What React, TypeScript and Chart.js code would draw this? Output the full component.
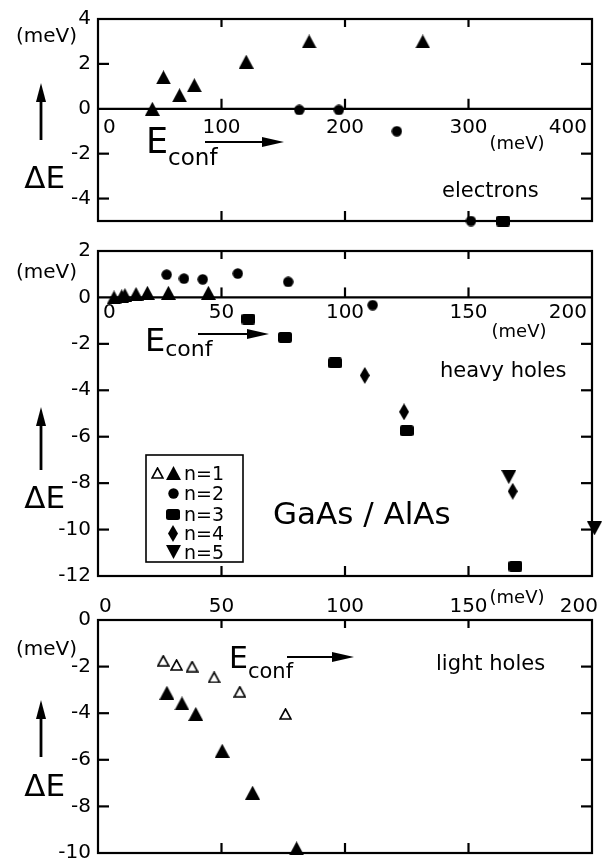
import React, { useEffect, useRef } from 'react';
import { Chart, registerables } from 'chart.js';
Chart.register(...registerables);

const FONT = '"DejaVu Sans", "Liberation Sans", sans-serif';

// ---------- electrons (top panel) ----------
const elecN1X = [44, 53, 66, 78, 120, 171, 263];
const elecN1Y = [0, 1.4, 0.6, 1.05, 2.1, 3.0, 3.0];
const elecN2X = [163, 195, 242, 302];
const elecN2Y = [-0.05, -0.05, -1.0, -5.0];
const elecN3X = [328];
const elecN3Y = [-5.0];
const elecXTicks = [0, 100, 200, 300, 400];
const elecYTicks = [4, 2, 0, -2, -4];

// ---------- heavy holes (middle panel) ----------
const hhN1X = [6.5, 9.6, 10.9, 15.4, 20, 28.5, 44.7];
const hhN1Y = [0, 0.05, 0.1, 0.15, 0.2, 0.2, 0.2];
const hhN2X = [27.8, 34.8, 42.4, 56.6, 77, 111.2];
const hhN2Y = [0.98, 0.81, 0.78, 1.03, 0.67, -0.33];
const hhN3X = [60.9, 75.7, 96, 125, 169];
const hhN3Y = [-0.93, -1.72, -2.82, -5.74, -11.58];
const hhN4X = [108, 123.9, 167.9];
const hhN4Y = [-3.36, -4.93, -8.35];
const hhN5X = [166.3, 201];
const hhN5Y = [-7.74, -9.95];
const hhXTicks = [0, 50, 100, 150, 200];
const hhYTicks = [2, 0, -2, -4, -6, -8, -10, -12];

// ---------- light holes (bottom panel) ----------
const lhOpenX = [26.4, 31.8, 38.1, 47.0, 57.4, 75.9];
const lhOpenY = [-1.75, -1.93, -2.0, -2.46, -3.08, -4.03];
const lhFillX = [27.9, 34.0, 39.6, 50.3, 62.6, 80.4];
const lhFillY = [-3.12, -3.58, -4.03, -5.61, -7.41, -9.8];
const lhXTicks = [0, 50, 100, 150, 200];
const lhYTicks = [0, -2, -4, -6, -8, -10];

const legendLabels = ['n=1', 'n=2', 'n=3', 'n=4', 'n=5'];
const xUnit = '(meV)';
const yUnit = '(meV)';

type Markers = Record<string, HTMLCanvasElement>;

function mk(w: number, h: number, draw: (g: CanvasRenderingContext2D, w: number, h: number) => void) {
  const c = document.createElement('canvas');
  c.width = w;
  c.height = h;
  const g = c.getContext('2d')!;
  g.fillStyle = '#000';
  g.strokeStyle = '#000';
  draw(g, w, h);
  return c;
}

function makeMarkers(): Markers {
  return {
    triUp: mk(15, 14, (g, w, h) => {
      g.beginPath(); g.moveTo(w / 2, 0); g.lineTo(w, h); g.lineTo(0, h); g.closePath(); g.fill();
    }),
    triOpen: mk(13, 12, (g, w, h) => {
      g.lineWidth = 1.6;
      g.beginPath(); g.moveTo(w / 2, 1); g.lineTo(w - 1, h - 1); g.lineTo(1, h - 1); g.closePath(); g.stroke();
    }),
    circle: mk(11, 11, (g) => {
      g.beginPath(); g.arc(5.5, 5.5, 5.2, 0, Math.PI * 2); g.fill();
    }),
    square: mk(14, 11, (g, w, h) => {
      g.beginPath(); (g as any).roundRect(0, 0, w, h, 2.5); g.fill();
    }),
    diamond: mk(10, 17, (g, w, h) => {
      g.beginPath(); g.moveTo(w / 2, 0); g.lineTo(w, h / 2); g.lineTo(w / 2, h); g.lineTo(0, h / 2); g.closePath(); g.fill();
    }),
    triDown: mk(15, 14, (g, w, h) => {
      g.beginPath(); g.moveTo(0, 0); g.lineTo(w, 0); g.lineTo(w / 2, h); g.closePath(); g.fill();
    }),
  };
}

function ds(xs: number[], ys: number[], style: HTMLCanvasElement, label: string) {
  return {
    label,
    data: xs.map((x, i) => ({ x, y: ys[i] })),
    pointStyle: style,
    pointRadius: 7,
    pointHoverRadius: 7,
    showLine: false,
    clip: false as any,
    backgroundColor: '#000',
    borderColor: '#000',
  };
}

function line(ctx: CanvasRenderingContext2D, x1: number, y1: number, x2: number, y2: number, w = 2) {
  ctx.lineWidth = w;
  ctx.beginPath(); ctx.moveTo(x1, y1); ctx.lineTo(x2, y2); ctx.stroke();
}

function txt(ctx: CanvasRenderingContext2D, s: string, x: number, y: number, size: number, align: CanvasTextAlign = 'left') {
  ctx.font = `${size}px ${FONT}`;
  ctx.textAlign = align;
  ctx.textBaseline = 'alphabetic';
  ctx.fillText(s, x, y);
}

function arrowRight(ctx: CanvasRenderingContext2D, x1: number, x2: number, y: number) {
  line(ctx, x1, y, x2 - 10, y, 2.2);
  ctx.beginPath(); ctx.moveTo(x2, y); ctx.lineTo(x2 - 22, y - 5); ctx.lineTo(x2 - 22, y + 5); ctx.closePath(); ctx.fill();
}

function arrowUp(ctx: CanvasRenderingContext2D, x: number, yBottom: number, yTop: number) {
  line(ctx, x, yBottom, x, yTop + 10, 2.8);
  ctx.beginPath(); ctx.moveTo(x, yTop); ctx.lineTo(x - 5, yTop + 19); ctx.lineTo(x + 5, yTop + 19); ctx.closePath(); ctx.fill();
}

function eConf(ctx: CanvasRenderingContext2D, x: number, baseE: number, sizeE: number, baseSub: number, sizeSub: number) {
  txt(ctx, 'E', x, baseE, sizeE);
  ctx.font = `${sizeE}px ${FONT}`;
  const w = ctx.measureText('E').width;
  txt(ctx, 'conf', x + w, baseSub, sizeSub);
}

function leftLabel(ctx: CanvasRenderingContext2D, unitBase: number, arrowBottom: number, arrowTop: number, deBase: number) {
  txt(ctx, yUnit, 77, unitBase, 20, 'right');
  arrowUp(ctx, 41, arrowBottom, arrowTop);
  txt(ctx, 'ΔE', 65, deBase, 31, 'right');
}

type FrameOpts = { xTicks: number[]; yTicks: number[]; zero: boolean; labelsAt: 'zero' | 'top'; labelBase: number };

function drawFrame(chart: any, o: FrameOpts) {
  const { ctx, chartArea: a, scales } = chart;
  const xs = scales.x, ys = scales.y;
  ctx.save();
  ctx.strokeStyle = '#000';
  ctx.fillStyle = '#000';
  ctx.lineWidth = 2.2;
  ctx.strokeRect(a.left, a.top, a.right - a.left, a.bottom - a.top);
  const y0 = ys.getPixelForValue(0);
  if (o.zero) line(ctx, a.left, y0, a.right, y0, 2.2);
  const inner = o.xTicks.slice(1, -1);
  for (const v of inner) {
    const px = xs.getPixelForValue(v);
    line(ctx, px, a.top, px, a.top + 8, 2.2);
    line(ctx, px, a.bottom, px, a.bottom - 10, 2.2);
    if (o.zero) line(ctx, px, y0, px, y0 - 10, 2.2);
  }
  const yMin = ys.min, yMax = ys.max;
  for (const v of o.yTicks) {
    if (v === 0 && o.zero) continue;
    if (v === yMin || v === yMax) continue;
    const py = ys.getPixelForValue(v);
    line(ctx, a.left, py, a.left + 11, py, 2.2);
    line(ctx, a.right, py, a.right - 11, py, 2.2);
  }
  o.xTicks.forEach((v, i) => {
    const px = xs.getPixelForValue(v);
    const s = String(v);
    if (i === 0) txt(ctx, s, px + (o.labelsAt === 'zero' ? 5 : 1), o.labelBase, 20, 'left');
    else if (i === o.xTicks.length - 1) txt(ctx, s, px + (o.labelsAt === 'zero' ? -5 : 6), o.labelBase, 20, 'right');
    else txt(ctx, s, px, o.labelBase, 20, 'center');
  });
  ctx.restore();
}

function makeConfig(datasets: any[], xMin: number, xMax: number, yMin: number, yMax: number, yTicks: number[],
  pad: { top: number; bottom: number }, draw: (chart: any) => void) {
  return {
    type: 'scatter' as const,
    data: { datasets },
    options: {
      animation: false as const,
      responsive: false,
      maintainAspectRatio: false,
      events: [] as any[],
      layout: { padding: { top: pad.top, bottom: pad.bottom, left: 0, right: 24 } },
      plugins: { legend: { display: false }, tooltip: { enabled: false } },
      scales: {
        x: { type: 'linear' as const, min: xMin, max: xMax, display: false },
        y: {
          type: 'linear' as const, min: yMin, max: yMax, position: 'left' as const,
          afterBuildTicks: (s: any) => { s.ticks = yTicks.map((v) => ({ value: v })); },
          afterFit: (s: any) => { s.width = 98; },
          grid: { display: false, drawTicks: false },
          border: { display: false },
          ticks: { font: { family: FONT, size: 20 }, color: '#000', padding: 7, autoSkip: false, callback: (v: any) => String(v) },
        },
      },
    },
    plugins: [{ id: 'deco', afterDraw: (chart: any) => draw(chart) }],
  };
}

export default function App() {
  const r1 = useRef<HTMLCanvasElement>(null);
  const r2 = useRef<HTMLCanvasElement>(null);
  const r3 = useRef<HTMLCanvasElement>(null);

  useEffect(() => {
    const M = makeMarkers();

    // top panel: canvas at page y=0
    const off1 = 0;
    const c1 = new Chart(r1.current!, makeConfig(
      [ds(elecN1X, elecN1Y, M.triUp, 'n=1'), ds(elecN2X, elecN2Y, M.circle, 'n=2'), ds(elecN3X, elecN3Y, M.square, 'n=3')],
      0, 400, -5, 4, elecYTicks, { top: 14, bottom: 17 },
      (chart) => {
        const ctx = chart.ctx;
        const Y = (v: number) => v - off1;
        drawFrame(chart, { xTicks: elecXTicks, yTicks: elecYTicks, zero: true, labelsAt: 'zero', labelBase: Y(133) });
        ctx.save(); ctx.fillStyle = '#000'; ctx.strokeStyle = '#000';
        txt(ctx, xUnit, 517, Y(149), 18, 'center');
        leftLabel(ctx, Y(42), Y(140), Y(83), Y(188));
        eConf(ctx, 146, Y(153), 35, Y(165), 23);
        arrowRight(ctx, 205, 284, Y(142));
        txt(ctx, 'electrons', 442, Y(197), 21);
        ctx.restore();
      }) as any);

    // middle panel: canvas at page y=232
    const off2 = 232;
    const c2 = new Chart(r2.current!, makeConfig(
      [ds(hhN1X, hhN1Y, M.triUp, 'n=1'), ds(hhN2X, hhN2Y, M.circle, 'n=2'), ds(hhN3X, hhN3Y, M.square, 'n=3'),
       ds(hhN4X, hhN4Y, M.diamond, 'n=4'), ds(hhN5X, hhN5Y, M.triDown, 'n=5')],
      0, 200, -12, 2, hhYTicks, { top: 16, bottom: 24 },
      (chart) => {
        const ctx = chart.ctx;
        const Y = (v: number) => v - off2;
        drawFrame(chart, { xTicks: hhXTicks, yTicks: hhYTicks, zero: true, labelsAt: 'zero', labelBase: Y(318) });
        ctx.save(); ctx.fillStyle = '#000'; ctx.strokeStyle = '#000';
        txt(ctx, xUnit, 519, Y(337), 18, 'center');
        leftLabel(ctx, Y(278), Y(470), Y(407), Y(508));
        eConf(ctx, 145, Y(351), 32, Y(356), 22);
        arrowRight(ctx, 198, 269, Y(334));
        txt(ctx, 'heavy holes', 440, Y(377), 21);
        txt(ctx, 'GaAs / AlAs', 273, Y(524), 31);
        // legend
        ctx.lineWidth = 1.6;
        ctx.strokeRect(146, Y(455), 97, 107);
        const rows = [473, 493, 514, 533, 552];
        const marks = [M.triUp, M.circle, M.square, M.diamond, M.triDown];
        rows.forEach((ry, i) => {
          const cy = Y(ry);
          const m = marks[i];
          ctx.drawImage(m, Math.round(173 - m.width / 2), Math.round(cy - m.height / 2));
          if (i === 0) ctx.drawImage(M.triOpen, Math.round(157 - M.triOpen.width / 2), Math.round(cy - M.triOpen.height / 2));
          txt(ctx, legendLabels[i], 184, cy + 7, 19);
        });
        ctx.restore();
      }) as any);

    // bottom panel: canvas at page y=580
    const off3 = 580;
    const c3 = new Chart(r3.current!, makeConfig(
      [ds(lhOpenX, lhOpenY, M.triOpen, 'n=1 open'), ds(lhFillX, lhFillY, M.triUp, 'n=1')],
      0, 200, -10, 0, lhYTicks, { top: 40, bottom: 27 },
      (chart) => {
        const ctx = chart.ctx;
        const Y = (v: number) => v - off3;
        drawFrame(chart, { xTicks: lhXTicks, yTicks: lhYTicks, zero: false, labelsAt: 'top', labelBase: Y(612) });
        ctx.save(); ctx.fillStyle = '#000'; ctx.strokeStyle = '#000';
        txt(ctx, xUnit, 517, Y(603), 18, 'center');
        leftLabel(ctx, Y(655), Y(757), Y(700), Y(796));
        eConf(ctx, 229, Y(668), 30, Y(678), 21);
        arrowRight(ctx, 287, 354, Y(657));
        txt(ctx, 'light holes', 436, Y(670), 21);
        ctx.restore();
      }) as any);

    return () => { c1.destroy(); c2.destroy(); c3.destroy(); };
  }, []);

  return (
    <div style={{ position: 'absolute', left: 0, top: 0, width: 616, height: 861, overflow: 'hidden', background: '#fff' }}>
      <canvas ref={r1} width={616} height={240} style={{ position: 'absolute', left: 0, top: 0, width: 616, height: 240 }} />
      <canvas ref={r2} width={616} height={368} style={{ position: 'absolute', left: 0, top: 232, width: 616, height: 368 }} />
      <canvas ref={r3} width={616} height={300} style={{ position: 'absolute', left: 0, top: 580, width: 616, height: 300 }} />
    </div>
  );
}
